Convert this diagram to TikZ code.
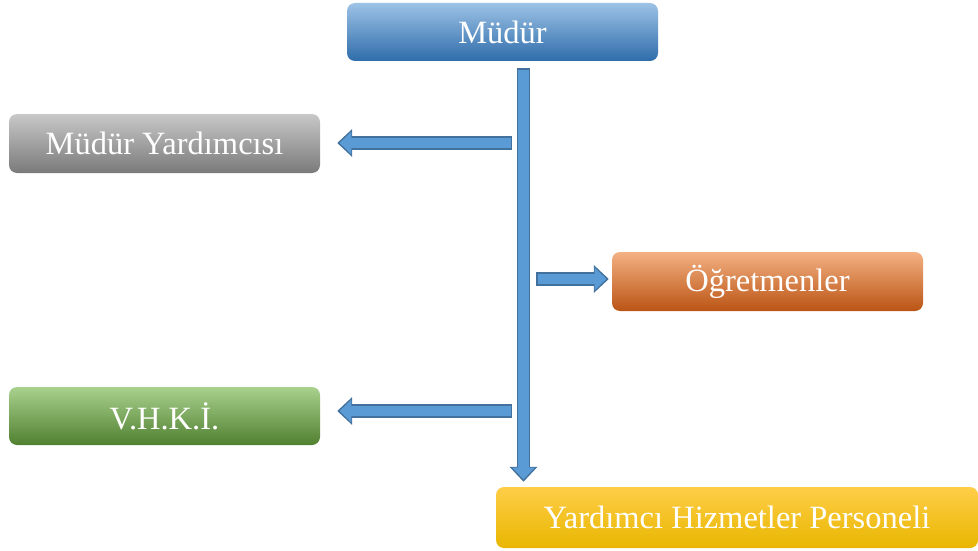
\documentclass[tikz,border=0pt]{standalone}
\usepackage{fontspec}
\setmainfont{Liberation Serif}
\usetikzlibrary{arrows.meta,calc}

\definecolor{arrfill}{HTML}{5B9BD5}
\definecolor{arrline}{HTML}{41719C}

\newcommand{\blockarrow}[2]{%
    \draw[flowout] #1 -- #2;
    \draw[flowin] #1 -- #2;
}

\begin{document}
\begin{tikzpicture}[
        x = 1pt, y = 1pt,
        box/.style = {rounded corners=8pt, minimum width=311pt, minimum height=58pt,
                      inner sep=0pt, text=white, font=\fontsize{32.5}{38}\selectfont},
        flowout/.style = {line width=13.5pt, draw=arrline, -{Triangle[length=15pt,width=27pt]}},
        flowin/.style = {line width=10.5pt, draw=arrfill, shorten <=1.5pt, shorten >=2.4pt,
                         -{Triangle[length=11.8pt,width=22pt]}}
    ]

    \useasboundingbox (0,0) rectangle (978,-551);

    \node[box, top color={rgb,255:red,157;green,195;blue,230}, bottom color={rgb,255:red,46;green,108;blue,170}]
        (mudur) at (502.5,-32) {Müdür};
    \node[box, minimum height=59pt, top color={rgb,255:red,200;green,200;blue,200}, bottom color={rgb,255:red,122;green,122;blue,122}]
        (yard) at (164.5,-143.5) {Müdür Yardımcısı};
    \node[box, minimum height=59pt, top color={rgb,255:red,244;green,177;blue,131}, bottom color={rgb,255:red,186;green,84;blue,20}]
        (ogret) at (767.5,-281.5) {Öğretmenler};
    \node[box, top color={rgb,255:red,169;green,209;blue,142}, bottom color={rgb,255:red,80;green,128;blue,48}]
        (vhki) at (164.5,-416) {V.H.K.İ.};
    \node[box, minimum width=482pt, minimum height=61pt, top color={rgb,255:red,255;green,206;blue,72},
          middle color={rgb,255:red,255;green,192;blue,0}, bottom color={rgb,255:red,232;green,182;blue,0}]
        (yhp) at (737,-517.5) {Yardımcı Hizmetler Personeli};

    % ana hat ve kollar
    \coordinate (t0) at ([xshift=21pt,yshift=-7pt]mudur.south);
    \coordinate (h1) at ($(t0 |- yard.east)+(-11.5,0.5)$);
    \coordinate (h2) at ($(t0 |- ogret.west)+(12.5,2.5)$);
    \coordinate (h3) at ($(t0 |- vhki.east)+(-11.5,5)$);

    \blockarrow{(t0)}{([yshift=5pt]yhp.north -| t0)}
    \blockarrow{(h1)}{([xshift=17pt]yard.east |- h1)}
    \blockarrow{(h2)}{([xshift=-3pt]ogret.west |- h2)}
    \blockarrow{(h3)}{([xshift=17pt]vhki.east |- h3)}

\end{tikzpicture}
\end{document}
